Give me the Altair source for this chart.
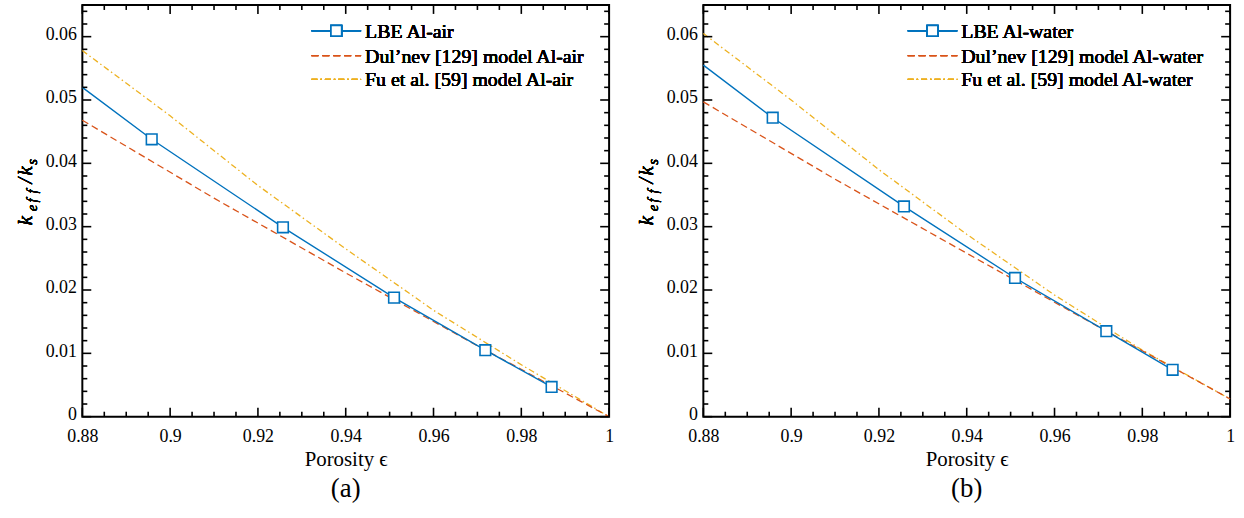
import altair as alt
import pandas as pd

# ---------------- data ----------------
lbe_x = [0.88, 0.8958, 0.9257, 0.951, 0.9718, 0.9869]
lbe_air = [0.0520, 0.0438, 0.0299, 0.0188, 0.0105, 0.0047]
lbe_water = [0.0555, 0.0472, 0.0332, 0.0219, 0.0135, 0.0074]

dul_x = [0.88, 0.91, 0.94, 0.97, 1.0]
dul_air = [0.0468, 0.0345, 0.0227, 0.0112, 0.0]
dul_water = [0.0497, 0.0375, 0.0258, 0.0142, 0.0028]

fu_x = [0.88, 0.90, 0.92, 0.94, 0.96, 0.98, 1.0]
fu_air = [0.0578, 0.0475, 0.0365, 0.0265, 0.0168, 0.0082, 0.0]
fu_water = [0.0605, 0.0500, 0.0390, 0.0288, 0.0192, 0.0105, 0.0028]

x_major = [0.88, 0.90, 0.92, 0.94, 0.96, 0.98, 1.0]
x_minor = [0.885, 0.89, 0.895, 0.905, 0.91, 0.915, 0.925, 0.93, 0.935,
           0.945, 0.95, 0.955, 0.965, 0.97, 0.975, 0.985, 0.99, 0.995]
y_major = [0.0, 0.01, 0.02, 0.03, 0.04, 0.05, 0.06]
y_minor = [0.002, 0.004, 0.006, 0.008, 0.012, 0.014, 0.016, 0.018,
           0.022, 0.024, 0.026, 0.028, 0.032, 0.034, 0.036, 0.038,
           0.042, 0.044, 0.046, 0.048, 0.052, 0.054, 0.056, 0.058,
           0.062, 0.064]

BLUE = "#0072BD"
RED = "#D95319"
YEL = "#EDB120"
FONT = "Liberation Serif"

W, H = 531, 415
xs = alt.Scale(domain=[0.88, 1.0], nice=False, zero=False)
ys = alt.Scale(domain=[0.0, 0.065], nice=False, zero=False)
XAX = alt.Axis(values=x_major, format="~g", title="Porosity ϵ", labelFlush=False)
YAX = alt.Axis(values=y_major, format="~g", title=None, labelFlush=False)


def panel(lbe_y, dul_y, fu_y, names, caption, leg_x0):
    lbe = pd.DataFrame({"x": lbe_x, "y": lbe_y})
    mk = lbe.iloc[1:]
    dul = pd.DataFrame({"x": dul_x, "y": dul_y})
    fu = pd.DataFrame({"x": fu_x, "y": fu_y})

    X = alt.X("x:Q", scale=xs, axis=XAX)
    Y = alt.Y("y:Q", scale=ys, axis=YAX)

    fu_line = alt.Chart(fu).mark_line(color=YEL, strokeWidth=1.3,
                                      strokeDash=[6, 3, 1.5, 3]).encode(x=X, y=Y)
    dul_line = alt.Chart(dul).mark_line(color=RED, strokeWidth=1.3,
                                        strokeDash=[7, 4]).encode(x=X, y=Y)
    lbe_line = alt.Chart(lbe).mark_line(color=BLUE, strokeWidth=1.4).encode(x=X, y=Y)
    lbe_pts = alt.Chart(mk).mark_point(shape="square", size=115, filled=True,
                                       fill="white", stroke=BLUE, strokeWidth=1.6,
                                       opacity=1).encode(x=X, y=Y)

    # ticks (inward, all four sides)
    tk = dict(color="black", strokeWidth=1.6)
    ticks = []
    for vals, L in ((x_major, 9), (x_minor, 5)):
        df = pd.DataFrame({"x": vals})
        ticks.append(alt.Chart(df).mark_rule(**tk).encode(
            x=X, y=alt.value(H), y2=alt.value(H - L)))
        ticks.append(alt.Chart(df).mark_rule(**tk).encode(
            x=X, y=alt.value(0), y2=alt.value(L)))
    for vals, L in ((y_major, 9), (y_minor, 5)):
        df = pd.DataFrame({"y": vals})
        ticks.append(alt.Chart(df).mark_rule(**tk).encode(
            y=Y, x=alt.value(0), x2=alt.value(L)))
        ticks.append(alt.Chart(df).mark_rule(**tk).encode(
            y=Y, x=alt.value(W), x2=alt.value(W - L)))

    # legend (manual, top right inside the frame)
    rows = [26, 51, 75]
    leg = []
    leg.append(alt.Chart(lbe).mark_rule(color=BLUE, strokeWidth=1.4).encode(
        x=alt.value(leg_x0), x2=alt.value(leg_x0 + 50), y=alt.value(rows[0])))
    leg.append(alt.Chart(lbe).mark_point(shape="square", size=115, filled=True,
                                         fill="white", stroke=BLUE, strokeWidth=1.6,
                                         opacity=1).encode(
        x=alt.value(leg_x0 + 25), y=alt.value(rows[0])))
    leg.append(alt.Chart(dul).mark_rule(color=RED, strokeWidth=1.3,
                                        strokeDash=[7, 4]).encode(
        x=alt.value(leg_x0), x2=alt.value(leg_x0 + 50), y=alt.value(rows[1])))
    leg.append(alt.Chart(fu).mark_rule(color=YEL, strokeWidth=1.3,
                                       strokeDash=[6, 3, 1.5, 3]).encode(
        x=alt.value(leg_x0), x2=alt.value(leg_x0 + 50), y=alt.value(rows[2])))
    for r, nm in zip(rows, names):
        leg.append(alt.Chart(lbe).mark_text(font=FONT, fontSize=20, fontWeight="normal",
                                            align="left", baseline="middle",
                                            color="black").encode(
            x=alt.value(leg_x0 + 54), y=alt.value(r + 1), text=alt.value(nm)))

    # y-axis title  k_eff / k_s  (rotated)
    pieces = [("k", 21, 222, 0), ("e", 15, 208, 5), ("f", 15, 199, 5),
              ("f", 15, 190, 5), ("/", 21, 180, 0), ("k", 21, 172, 0),
              ("s", 15, 161, 5)]
    ttl = []
    for t, fs, yy, dx in pieces:
        ttl.append(alt.Chart(lbe).mark_text(font=FONT, fontSize=fs, fontStyle="italic",
                                            fontWeight="normal", angle=270, align="left",
                                            baseline="alphabetic", color="black").encode(
            x=alt.value(-51 + dx), y=alt.value(yy), text=alt.value(t)))

    return alt.layer(fu_line, dul_line, lbe_line, lbe_pts, *ticks, *leg, *ttl).properties(
        width=W, height=H,
        title=alt.TitleParams(caption, orient="bottom", anchor="middle", font=FONT,
                              fontSize=27, fontWeight="normal", color="black",
                              offset=7))


left = panel(lbe_air, dul_air, fu_air,
             ["LBE Al-air", "Dul’nev [129] model Al-air", "Fu et al. [59] model Al-air"],
             "(a)", 231)
right = panel(lbe_water, dul_water, fu_water,
              ["LBE Al-water", "Dul’nev [129] model Al-water", "Fu et al. [59] model Al-water"],
              "(b)", 206)

chart = alt.hconcat(left, right, spacing=20).properties(
    padding={"left": 14, "top": 1, "right": 8, "bottom": 0}
).configure_view(stroke="black", strokeWidth=2).configure_axis(
    domain=False, ticks=False, grid=False, labelFont=FONT, labelFontSize=18,
    labelColor="black", titleFont=FONT, titleFontSize=21, titleFontWeight="normal",
    titleColor="black", labelPadding=8, titlePadding=3
).configure_axisX(labelPadding=11).configure_axisY(labelPadding=6, labelOffset=-2)

chart.save("out.html", embed_options={"renderer": "svg", "actions": False})
